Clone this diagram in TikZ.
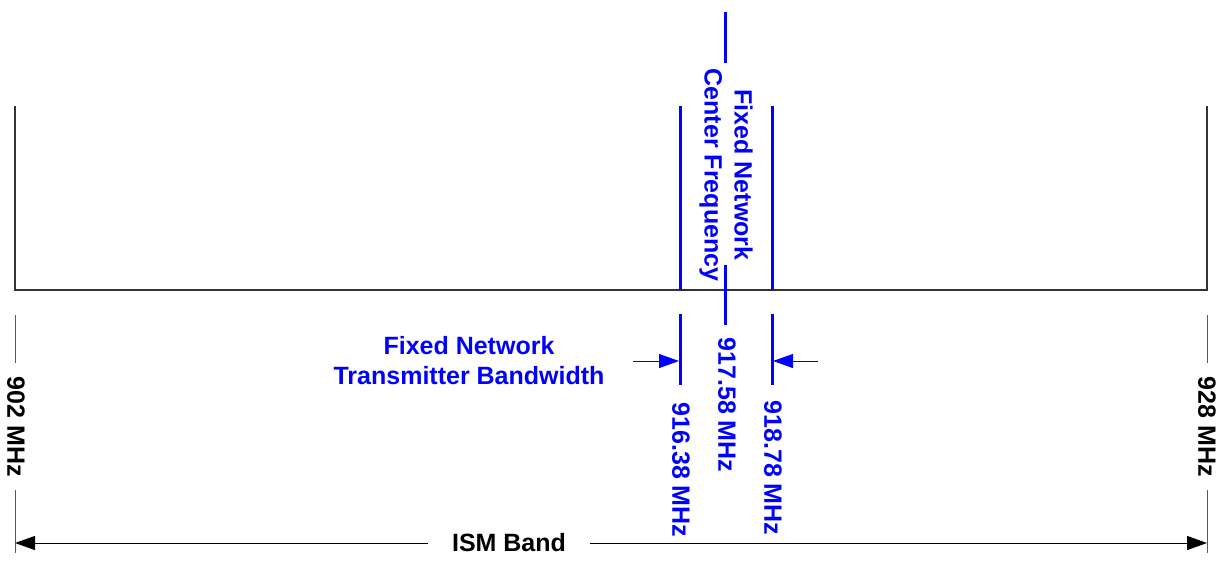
\documentclass[tikz,border=0pt]{standalone}
\usepackage{fontspec}
\setmainfont{Liberation Sans}
\usetikzlibrary{arrows.meta}
\definecolor{chanblue}{HTML}{0000FF}
\definecolor{edgegray}{HTML}{333333}
\tikzset{
  >={Triangle[length=10pt,width=7pt]},
  edgeline/.style={line width=0.6pt,draw=edgegray},
  tickline/.style={line width=0.5pt,draw=black!65},
  chanline/.style={line width=1.5pt,draw=chanblue},
  widtharrow/.style={->,line width=0.5pt,draw=chanblue},
  spanarrow/.style={->,line width=0.5pt,draw=black},
  labelfont/.style={font=\fontsize{12.5}{15}\selectfont\bfseries,inner sep=0pt},
  freqlabel/.style={labelfont,rotate=-90},
  bluelabel/.style={freqlabel,text=chanblue},
}
\begin{document}
\begin{tikzpicture}[x=0.5pt,y=-0.5pt]
  \useasboundingbox (0,0) rectangle (1225,563);
  % ISM band outline
  \coordinate (e0) at (15,106);
  \coordinate (e1) at (15,290);
  \coordinate (f1) at (1207,290);
  \coordinate (f0) at (1207,106);
  \draw[edgeline] (e0) -- (e1) -- (f1) -- (f0);
  % band edge markers below the outline
  \coordinate (a902) at (15,315);
  \coordinate (b902) at (15,363);
  \coordinate (c902) at (15,490);
  \coordinate (d902) at (15,553);
  \node[freqlabel] (t902) at (16,427) {902 MHz};
  \draw[tickline] (a902) -- (b902);
  \draw[tickline] (c902) -- (d902);
  \coordinate (a928) at (1207,315);
  \coordinate (b928) at (1207,363);
  \coordinate (c928) at (1207,490);
  \coordinate (d928) at (1207,553);
  \node[freqlabel] (t928) at (1207,427) {928 MHz};
  \draw[tickline] (a928) -- (b928);
  \draw[tickline] (c928) -- (d928);
  % span of the ISM band
  \coordinate (ismL) at (15,543);
  \coordinate (ismR) at (1207,543);
  \node[labelfont, inner xsep=12pt] (ism) at (509,543) {ISM Band};
  \draw[spanarrow] (ism) -- (ismL);
  \draw[spanarrow] (ism) -- (ismR);
  % fixed network channel
  \coordinate (lo0) at (680,106);
  \coordinate (lo1) at (680,290);
  \coordinate (lo2) at (680,314);
  \coordinate (lo3) at (680,385);
  \coordinate (hi0) at (772,106);
  \coordinate (hi1) at (772,290);
  \coordinate (hi2) at (772,314);
  \coordinate (hi3) at (772,385);
  \coordinate (mid0) at (725,12);
  \coordinate (mid1) at (725,63);
  \coordinate (mid2) at (725,265);
  \coordinate (mid3) at (725,325);
  \draw[chanline] (lo0) -- (lo1);
  \draw[chanline] (lo2) -- (lo3);
  \draw[chanline] (hi0) -- (hi1);
  \draw[chanline] (hi2) -- (hi3);
  \draw[chanline] (mid0) -- (mid1);
  \draw[chanline] (mid2) -- (mid3);
  \node[bluelabel, align=center] (cflabel) at (726,175) {Fixed Network\\Center Frequency};
  \node[bluelabel] (tlo) at (681,470) {916.38 MHz};
  \node[bluelabel] (tmid) at (727,405) {917.58 MHz};
  \node[bluelabel] (thi) at (773,468) {918.78 MHz};
  % transmitter bandwidth
  \coordinate (bwL) at (633,361);
  \coordinate (bwLtip) at (679,361);
  \coordinate (bwR) at (818,361);
  \coordinate (bwRtip) at (773,361);
  \draw[widtharrow] (bwL) -- (bwLtip);
  \draw[widtharrow] (bwR) -- (bwRtip);
  \node[labelfont, text=chanblue, align=center] (bwlabel) at (469,361)
    {Fixed Network\\Transmitter Bandwidth};
\end{tikzpicture}
\end{document}
